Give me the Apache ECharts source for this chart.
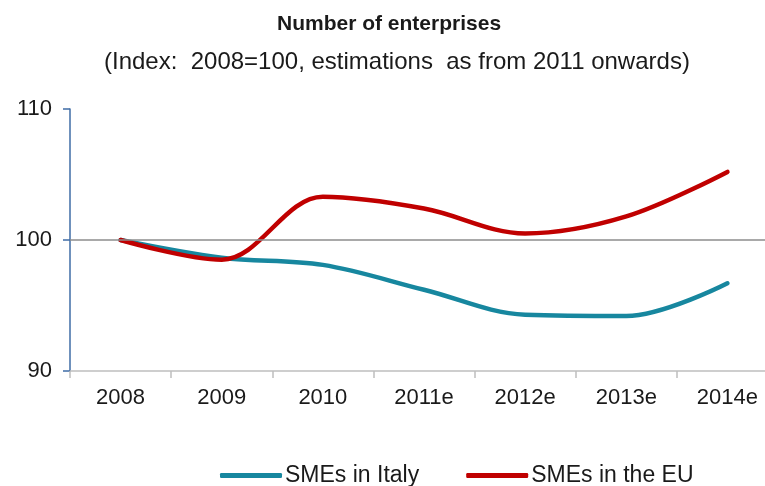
<!DOCTYPE html>
<html>
<head>
<meta charset="utf-8">
<script src="https://cdn.jsdelivr.net/npm/echarts@6/dist/echarts.min.js"></script>
<style>html,body{margin:0;padding:0;background:#fff;overflow:hidden}#c{width:778px;height:486px}</style>
</head>
<body>
<div id="c"></div>
<script>
var categories = ['2008', '2009', '2010', '2011e', '2012e', '2013e', '2014e'];
var italy = [100, 98.65, 98.1, 96.2, 94.3, 94.2, 96.7];
var eu = [100, 98.5, 103.3, 102.4, 100.5, 101.8, 105.2];
var yTicks = [90, 100, 110];
var refValue = 100;

var font = '"Liberation Sans", Arial, sans-serif';
var chart = echarts.init(document.getElementById('c'), null, {renderer: 'canvas'});
chart.setOption({
  animation: false,
  backgroundColor: '#ffffff',
  title: [
    {text: 'Number of enterprises', left: 272, top: 9,
     textStyle: {fontFamily: font, fontSize: 21, fontWeight: 'bold', color: '#1a1a1a'}},
    {text: '(Index:  2008=100, estimations  as from 2011 onwards)', left: 99, top: 45,
     textStyle: {fontFamily: font, fontSize: 24, fontWeight: 'normal', color: '#1a1a1a'}}
  ],
  legend: {
    left: 215, top: 459, itemWidth: 62, itemHeight: 5, itemGap: 47,
    icon: 'roundRect',
    textStyle: {fontFamily: font, fontSize: 23, color: '#1a1a1a', padding: [0, 0, 0, -2]},
    data: ['SMEs in Italy', 'SMEs in the EU']
  },
  grid: {left: 70, right: 0, top: 109, bottom: 115, containLabel: false},
  xAxis: {
    type: 'category', data: categories, boundaryGap: true,
    axisLine: {lineStyle: {color: '#bfbfbf', width: 1.5}},
    axisTick: {show: true, length: 7, lineStyle: {color: '#bfbfbf', width: 1.5}},
    axisLabel: {fontFamily: font, fontSize: 22, color: '#1a1a1a', margin: 16}
  },
  yAxis: {
    type: 'value', min: yTicks[0], max: yTicks[yTicks.length - 1], interval: 10,
    axisLine: {show: true, lineStyle: {color: '#3f6ca6', width: 1.5}},
    axisTick: {show: true, length: 7, lineStyle: {color: '#3f6ca6', width: 1.5}},
    splitLine: {show: false},
    axisLabel: {fontFamily: font, fontSize: 22, color: '#1a1a1a', margin: 18}
  },
  series: [
    {name: 'SMEs in Italy', type: 'line', data: italy, smooth: 0.35, symbol: 'none',
     lineStyle: {color: '#17879f', width: 4.5, cap: 'round'}, itemStyle: {color: '#17879f'},
     markLine: {silent: true, symbol: 'none', label: {show: false},
       lineStyle: {color: '#8c8c8c', width: 1.5, type: 'solid'},
       data: [{yAxis: refValue}]}, z: 3},
    {name: 'SMEs in the EU', type: 'line', data: eu, smooth: 0.35, symbol: 'none',
     lineStyle: {color: '#c00000', width: 4.5, cap: 'round'}, itemStyle: {color: '#c00000'}, z: 4}
  ]
});
</script>
</body>
</html>
